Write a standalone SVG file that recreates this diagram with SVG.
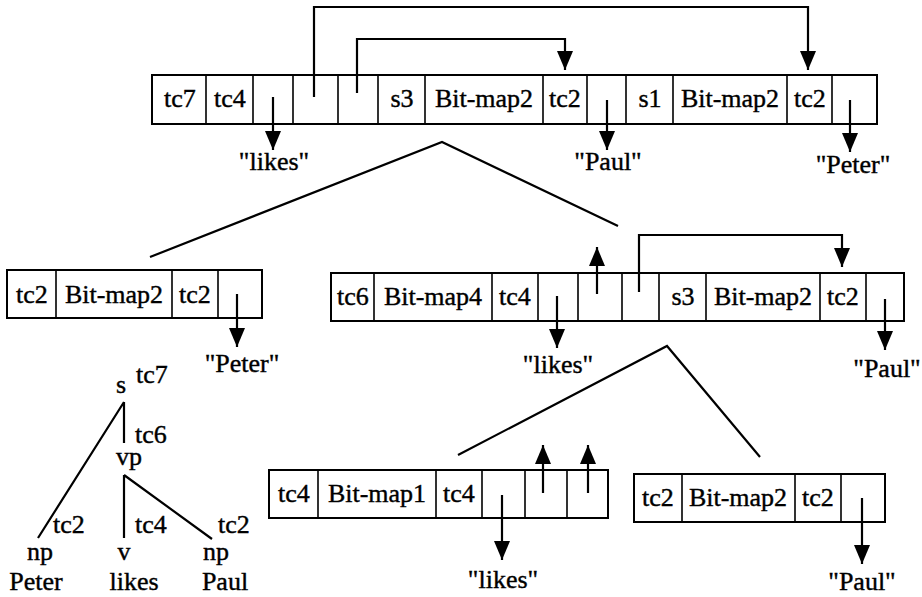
<svg xmlns="http://www.w3.org/2000/svg" width="922" height="597" viewBox="0 0 922 597">
<defs>
<style>
text{font-family:"Liberation Serif","Times New Roman",serif;font-size:26px;fill:#000;stroke:#000;stroke-width:0.4}
.c{text-anchor:middle}
.box{fill:#fff;stroke:#000;stroke-width:2}
.div{stroke:#000;stroke-width:1.6}
.ln{fill:none;stroke:#000;stroke-width:2.2}
.ar{fill:none;stroke:#000;stroke-width:2.2;marker-end:url(#ah)}
</style>
<marker id="ah" markerUnits="userSpaceOnUse" markerWidth="20" markerHeight="20" viewBox="0 0 20 20" refX="19" refY="10" orient="auto">
<path d="M0,2 L19,10 L0,18 Z" fill="#000"/>
</marker>
</defs>
<rect width="922" height="597" fill="#fff"/>

<g id="rec-top">
<rect class="box" x="152" y="75" width="725" height="49"/>
<path class="div" d="M206,75V124M253,75V124M293,75V124M338,75V124M378,75V124M425,75V124M543,75V124M587,75V124M626,75V124M673,75V124M787,75V124M832,75V124"/>
<text class="c" x="180" y="107">tc7</text>
<text class="c" x="230" y="107">tc4</text>
<text class="c" x="402" y="107">s3</text>
<text class="c" x="484" y="107">Bit-map2</text>
<text class="c" x="565" y="107">tc2</text>
<text class="c" x="650" y="107">s1</text>
<text class="c" x="730" y="107">Bit-map2</text>
<text class="c" x="810" y="107">tc2</text>
</g>

<g id="rec-peter">
<rect class="box" x="7" y="270" width="255" height="48"/>
<path class="div" d="M56,270V318M172,270V318M218,270V318"/>
<text class="c" x="32" y="303">tc2</text>
<text class="c" x="114" y="303">Bit-map2</text>
<text class="c" x="195" y="303">tc2</text>
</g>

<g id="rec-vp">
<rect class="box" x="331" y="273" width="573" height="48"/>
<path class="div" d="M374,273V321M492,273V321M538,273V321M578,273V321M622,273V321M659,273V321M706,273V321M820,273V321M866,273V321"/>
<text class="c" x="353" y="305">tc6</text>
<text class="c" x="433" y="305">Bit-map4</text>
<text class="c" x="515" y="305">tc4</text>
<text class="c" x="683" y="305">s3</text>
<text class="c" x="763" y="305">Bit-map2</text>
<text class="c" x="843" y="305">tc2</text>
</g>

<g id="rec-likes">
<rect class="box" x="269" y="470" width="339" height="48"/>
<path class="div" d="M318,470V518M436,470V518M482,470V518M525,470V518M567,470V518"/>
<text class="c" x="294" y="502">tc4</text>
<text class="c" x="377" y="502">Bit-map1</text>
<text class="c" x="459" y="502">tc4</text>
</g>

<g id="rec-paul">
<rect class="box" x="634" y="474" width="251" height="48"/>
<path class="div" d="M682,474V522M795,474V522M841,474V522"/>
<text class="c" x="658" y="506">tc2</text>
<text class="c" x="738" y="506">Bit-map2</text>
<text class="c" x="818" y="506">tc2</text>
</g>

<g id="labels">
<text class="c" x="274" y="170">"likes"</text>
<text class="c" x="608" y="170">"Paul"</text>
<text class="c" x="853" y="173">"Peter"</text>
<text class="c" x="242" y="372">"Peter"</text>
<text class="c" x="558" y="373">"likes"</text>
<text class="c" x="887" y="377">"Paul"</text>
<text class="c" x="503" y="588">"likes"</text>
<text class="c" x="862" y="590">"Paul"</text>
</g>

<g id="tree">
<text x="116" y="393">s</text>
<text x="136" y="383">tc7</text>
<text x="135" y="443">tc6</text>
<text x="116" y="465">vp</text>
<text x="53" y="533">tc2</text>
<text x="135" y="533">tc4</text>
<text x="218" y="533">tc2</text>
<text class="c" x="40" y="560">np</text>
<text class="c" x="124" y="560">v</text>
<text class="c" x="216" y="560">np</text>
<text class="c" x="36" y="590">Peter</text>
<text class="c" x="134" y="590">likes</text>
<text class="c" x="225" y="590">Paul</text>
</g>

<g id="connectors">
<path class="ar" d="M314,97V7H808V70"/>
<path class="ar" d="M357,93V39H565V70"/>
<path class="ar" d="M273,97V150"/>
<path class="ar" d="M607,100V150"/>
<path class="ar" d="M850,100V152"/>
<path class="ln" d="M150,257L442,142L618,226"/>
<path class="ar" d="M237,294V347"/>
<path class="ar" d="M557,296V348"/>
<path class="ar" d="M597,294V247"/>
<path class="ar" d="M639,292V235H842V267"/>
<path class="ar" d="M885,299V350"/>
<path class="ln" d="M458,455L667,346L760,457"/>
<path class="ar" d="M502,495V560"/>
<path class="ar" d="M543,493V445"/>
<path class="ar" d="M588,493V445"/>
<path class="ar" d="M862,498V564"/>
<path class="ln" d="M124,402V443M124,402L38,538M124,475V538M124,475L212,539"/>
</g>
</svg>
